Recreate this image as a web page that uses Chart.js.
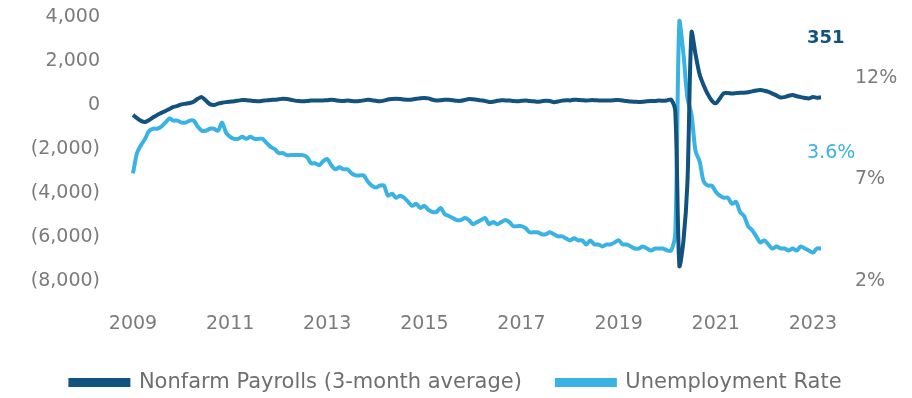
<!DOCTYPE html>
<html>
<head>
<meta charset="utf-8">
<script src="https://cdn.jsdelivr.net/npm/chart.js"></script>
<style>
  body { margin: 0; background: #fff; }
  #wrap { width: 912px; height: 398px; }
</style>
</head>
<body>
<div id="wrap"><canvas id="jobsChart"></canvas></div>
<script>
// monthly series, Jan 2009 .. Mar 2023
const startYear = 2009;

// nonfarm payrolls, 3-month average change (thousands)
const payrolls = [
  -450, -600, -720, -770, -680, -560, -450, -360, -270, -180, -90, -40,   // 2009
  30, 60, 90, 150, 280, 360, 200, 40, 0, 60, 100, 130,                     // 2010
  150, 170, 200, 230, 220, 200, 180, 170, 190, 210, 230, 240,              // 2011
  260, 280, 270, 240, 200, 180, 170, 180, 200, 210, 200, 210,              // 2012
  220, 240, 220, 190, 180, 200, 180, 170, 180, 210, 240, 220,              // 2013
  190, 170, 200, 250, 270, 280, 270, 250, 240, 250, 280, 310,              // 2014
  320, 300, 240, 210, 220, 240, 240, 220, 190, 190, 230, 270,              // 2015
  260, 240, 210, 180, 140, 150, 190, 220, 210, 200, 180, 170,              // 2016
  190, 210, 180, 170, 150, 170, 190, 180, 130, 160, 200, 220,              // 2017
  210, 240, 230, 220, 200, 220, 220, 210, 200, 210, 200, 220,              // 2018
  230, 200, 180, 160, 150, 140, 150, 170, 180, 180, 200, 190,              // 2019
  210, 240, -300, -7300, -6200, -3500, 3300, 2300, 1400, 900, 500, 200,    // 2020
  80, 300, 540, 540, 520, 540, 560, 560, 580, 620, 660, 680,               // 2021
  650, 600, 520, 430, 340, 360, 420, 450, 400, 360, 320, 300,              // 2022
  360, 330, 351                                                            // 2023
];

// unemployment rate (%)
const unemployment = [
  7.3, 8.3, 8.7, 9.0, 9.4, 9.5, 9.5, 9.6, 9.8, 10.0, 9.9, 9.9,   // 2009
  9.8, 9.8, 9.9, 9.9, 9.6, 9.4, 9.4, 9.5, 9.5, 9.4, 9.8, 9.3,    // 2010
  9.1, 9.0, 9.0, 9.1, 9.0, 9.1, 9.0, 9.0, 9.0, 8.8, 8.6, 8.5,    // 2011
  8.3, 8.3, 8.2, 8.2, 8.2, 8.2, 8.2, 8.1, 7.8, 7.8, 7.7, 7.9,    // 2012
  8.0, 7.7, 7.5, 7.6, 7.5, 7.5, 7.3, 7.2, 7.2, 7.2, 6.9, 6.7,    // 2013
  6.6, 6.7, 6.7, 6.2, 6.3, 6.1, 6.2, 6.1, 5.9, 5.7, 5.8, 5.6,    // 2014
  5.7, 5.5, 5.4, 5.4, 5.6, 5.3, 5.2, 5.1, 5.0, 5.0, 5.1, 5.0,    // 2015
  4.8, 4.9, 5.0, 5.1, 4.8, 4.9, 4.8, 4.9, 5.0, 4.9, 4.7, 4.7,    // 2016
  4.7, 4.6, 4.4, 4.4, 4.4, 4.3, 4.3, 4.4, 4.3, 4.2, 4.2, 4.1,    // 2017
  4.0, 4.1, 4.0, 4.0, 3.8, 4.0, 3.8, 3.8, 3.7, 3.8, 3.8, 3.9,    // 2018
  4.0, 3.8, 3.8, 3.7, 3.6, 3.6, 3.7, 3.6, 3.5, 3.6, 3.6, 3.6,    // 2019
  3.5, 3.5, 4.4, 14.8, 13.2, 11.0, 10.2, 8.4, 7.9, 6.9, 6.7, 6.7, // 2020
  6.4, 6.2, 6.1, 6.1, 5.8, 5.9, 5.4, 5.2, 4.7, 4.5, 4.2, 3.9,    // 2021
  4.0, 3.8, 3.6, 3.7, 3.6, 3.6, 3.5, 3.6, 3.5, 3.7, 3.6, 3.5,    // 2022
  3.4, 3.6, 3.6                                                  // 2023
];

const yearTicks = ['2009', '2011', '2013', '2015', '2017', '2019', '2021', '2023'];
const payrollTicks = [-8000, -6000, -4000, -2000, 0, 2000, 4000];
const rateTicks = [2, 7, 12];

const darkBlue = '#12527f';
const lightBlue = '#3ab2e4';
const tickGrey = '#7b7b7b';
const tickFont = { family: '"DejaVu Sans"', size: 19 };

// month labels like 2009-01
const months = [];
for (let i = 0; i < payrolls.length; i++) {
  const y = startYear + Math.floor(i / 12);
  const m = (i % 12) + 1;
  months.push(y + '-' + (m < 10 ? '0' + m : m));
}

function fmtThousands(v) {
  const s = Math.abs(v).toLocaleString('en-US');
  return v < 0 ? '(' + s + ')' : s;
}

// the big tick padding would otherwise push the plot area down
function fixYAxis(width) {
  return axis => {
    axis.width = width;
    axis.paddingTop = 12;
    axis.paddingBottom = 12;
  };
}

// last values written next to the line ends
const endLabels = {
  id: 'endLabels',
  afterDatasetsDraw(chart) {
    const ctx = chart.ctx;
    const last = payrolls.length - 1;
    const p0 = chart.getDatasetMeta(0).data[last];
    const p1 = chart.getDatasetMeta(1).data[last];
    ctx.save();
    ctx.textAlign = 'left';
    ctx.textBaseline = 'middle';
    ctx.font = 'bold 18px "DejaVu Sans"';
    ctx.fillStyle = darkBlue;
    ctx.fillText(payrolls[last].toLocaleString('en-US'), p0.x - 14, p0.y - 59);
    ctx.font = '19px "DejaVu Sans"';
    ctx.fillStyle = lightBlue;
    ctx.fillText(unemployment[last].toFixed(1) + '%', p1.x - 14, p1.y - 95);
    ctx.restore();
  }
};

new Chart('jobsChart', {
  type: 'line',
  data: {
    labels: months,
    datasets: [
      {
        label: 'Nonfarm Payrolls (3-month average)',
        data: payrolls,
        yAxisID: 'y',
        borderColor: darkBlue,
        backgroundColor: darkBlue,
        borderWidth: 4,
        pointRadius: 0,
        tension: 0.3
      },
      {
        label: 'Unemployment Rate',
        data: unemployment,
        yAxisID: 'y1',
        borderColor: lightBlue,
        backgroundColor: lightBlue,
        borderWidth: 4,
        pointRadius: 0,
        tension: 0.3
      }
    ]
  },
  options: {
    responsive: true,
    maintainAspectRatio: false,
    animation: false,
    layout: { padding: { top: 17, bottom: -5 } },
    plugins: {
      legend: {
        position: 'bottom',
        labels: {
          boxWidth: 58,
          boxHeight: 5,
          padding: 35,
          color: '#6f6f6f',
          font: { family: '"DejaVu Sans"', size: 21 }
        }
      },
      tooltip: { enabled: false }
    },
    scales: {
      x: {
        type: 'category',
        grid: { display: false, drawTicks: false },
        border: { display: false },
        afterBuildTicks: axis => {
          axis.ticks = axis.ticks.filter(t => months[t.value].endsWith('-01') && yearTicks.includes(months[t.value].slice(0, 4)));
        },
        afterFit: axis => { axis.height = 56; },
        ticks: {
          autoSkip: false,
          maxRotation: 0,
          minRotation: 0,
          padding: 32,
          color: tickGrey,
          font: tickFont,
          callback: v => months[v].slice(0, 4)
        }
      },
      y: {
        position: 'left',
        min: -8000,
        max: 4000,
        grid: { display: false, drawTicks: false },
        border: { display: false },
        afterBuildTicks: axis => { axis.ticks = payrollTicks.map(v => ({ value: v })); },
        afterFit: fixYAxis(133),
        ticks: { padding: 33, color: tickGrey, font: tickFont, callback: v => fmtThousands(v) }
      },
      y1: {
        position: 'right',
        min: 2,
        max: 15,
        grid: { display: false, drawTicks: false },
        border: { display: false },
        afterBuildTicks: axis => { axis.ticks = rateTicks.map(v => ({ value: v })); },
        afterFit: fixYAxis(91),
        ticks: { padding: 34, color: tickGrey, font: tickFont, callback: v => v + '%' }
      }
    }
  },
  plugins: [endLabels]
});
</script>
</body>
</html>
